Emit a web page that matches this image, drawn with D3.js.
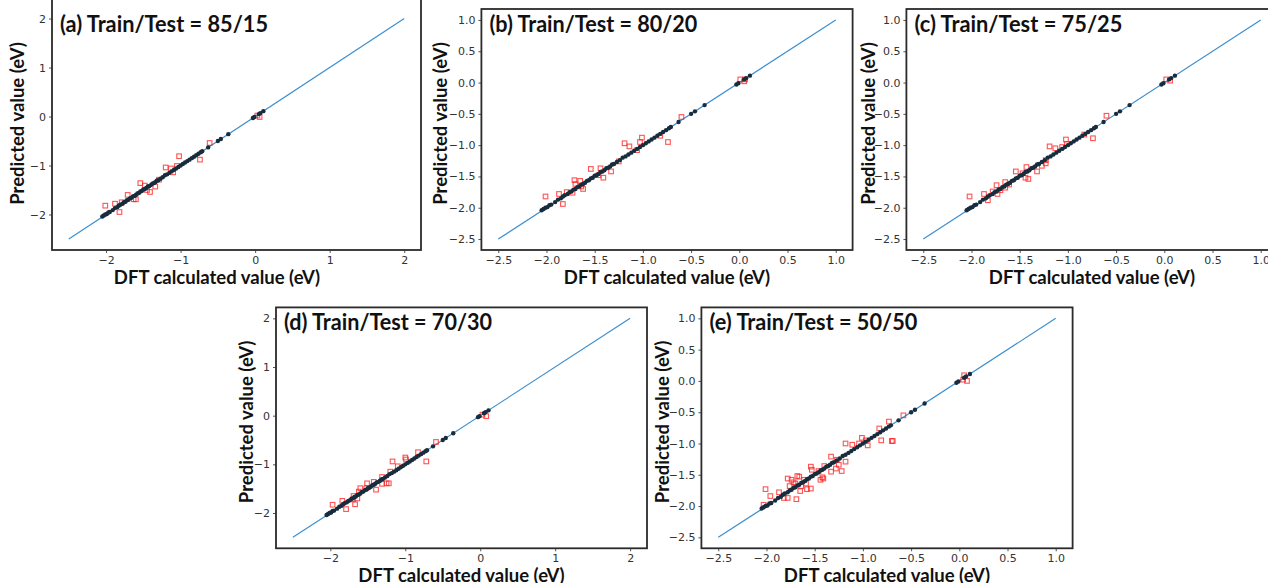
<!DOCTYPE html>
<html>
<head>
<meta charset="utf-8">
<script src="https://cdn.jsdelivr.net/npm/d3@7"></script>
<style>
  html, body { margin: 0; padding: 0; background: #fff; overflow: hidden; }
  svg { display: block; }
</style>
</head>
<body>
<svg id="chart" width="1268" height="583"></svg>
<script>
// ---- data ----
const panelTitles = ["(a) Train/Test = 85/15", "(b) Train/Test = 80/20", "(c) Train/Test = 75/25",
  "(d) Train/Test = 70/30", "(e) Train/Test = 50/50"];

const ticksWide = [-2, -1, 0, 1, 2];
const ticksNarrow = [-2.5, -2.0, -1.5, -1.0, -0.5, 0.0, 0.5, 1.0];
const lineWide = [-2.5, 2];
const lineNarrow = [-2.5, 1.0];

// training set (DFT, predicted) - practically identical in every panel
const trainPoints = [
  [-2.05, -2.04], [-2.03, -2.02], [-2.01, -2.00], [-1.99, -1.99], [-1.97, -1.96], [-1.95, -1.95],
  [-1.91, -1.91], [-1.88, -1.87], [-1.85, -1.85], [-1.83, -1.82], [-1.81, -1.80], [-1.78, -1.78],
  [-1.76, -1.75], [-1.74, -1.74], [-1.72, -1.71], [-1.70, -1.70], [-1.68, -1.67], [-1.66, -1.66],
  [-1.64, -1.63], [-1.62, -1.62], [-1.60, -1.60], [-1.58, -1.57], [-1.56, -1.56], [-1.54, -1.53],
  [-1.52, -1.52], [-1.50, -1.49], [-1.48, -1.48], [-1.46, -1.46], [-1.44, -1.43], [-1.42, -1.42],
  [-1.40, -1.40], [-1.38, -1.37], [-1.36, -1.36], [-1.34, -1.34], [-1.32, -1.31], [-1.30, -1.30],
  [-1.27, -1.27], [-1.24, -1.24], [-1.21, -1.20], [-1.18, -1.18], [-1.15, -1.15], [-1.12, -1.12],
  [-1.09, -1.09], [-1.06, -1.06], [-1.03, -1.03], [-1.00, -1.00], [-0.97, -0.97], [-0.94, -0.94],
  [-0.91, -0.91], [-0.88, -0.88], [-0.85, -0.85], [-0.82, -0.82], [-0.79, -0.79], [-0.76, -0.76],
  [-0.73, -0.73], [-0.71, -0.71], [-0.63, -0.63], [-0.50, -0.50], [-0.46, -0.46], [-0.36, -0.36],
  [-0.03, -0.03], [-0.01, -0.01], [0.05, 0.05], [0.07, 0.07], [0.11, 0.11]
];

// test sets (DFT, predicted)
const testA = [
  [-2.01, -1.82], [-1.88, -1.78], [-1.82, -1.95], [-1.79, -1.75], [-1.71, -1.60], [-1.63, -1.69],
  [-1.60, -1.69], [-1.54, -1.36], [-1.48, -1.41], [-1.45, -1.50], [-1.41, -1.54], [-1.34, -1.43],
  [-1.29, -1.29], [-1.20, -1.04], [-1.13, -1.06], [-1.10, -1.14], [-1.05, -1.01], [-1.02, -0.81],
  [-0.74, -0.88], [-0.61, -0.54], [0.03, 0.02], [0.06, -0.01]
];
const testB = [
  [-2.01, -1.82], [-1.87, -1.78], [-1.83, -1.94], [-1.79, -1.75], [-1.73, -1.76], [-1.71, -1.56],
  [-1.70, -1.62], [-1.65, -1.57], [-1.64, -1.66], [-1.62, -1.70], [-1.54, -1.38], [-1.44, -1.37],
  [-1.46, -1.48], [-1.41, -1.52], [-1.33, -1.42], [-1.25, -1.26], [-1.19, -0.97], [-1.14, -1.02],
  [-1.06, -1.08], [-1.03, -0.95], [-1.01, -0.88], [-0.82, -0.85], [-0.74, -0.95], [-0.60, -0.55],
  [0.01, 0.05], [0.05, 0.02], [0.06, 0.05]
];
const testC = [
  [-2.02, -1.82], [-1.87, -1.78], [-1.83, -1.88], [-1.78, -1.74], [-1.73, -1.78], [-1.74, -1.64],
  [-1.70, -1.72], [-1.65, -1.68], [-1.65, -1.59], [-1.61, -1.63], [-1.54, -1.42], [-1.47, -1.45],
  [-1.43, -1.35], [-1.44, -1.52], [-1.41, -1.54], [-1.32, -1.42], [-1.27, -1.33], [-1.23, -1.29],
  [-1.23, -1.24], [-1.19, -1.02], [-1.13, -1.05], [-1.06, -1.03], [-1.02, -0.91], [-1.01, -0.98],
  [-0.83, -0.83], [-0.74, -0.89], [-0.60, -0.53], [0.02, 0.05], [0.06, 0.03]
];
const testD = [
  [-1.97, -1.83], [-1.84, -1.75], [-1.79, -1.92], [-1.67, -1.82], [-1.69, -1.65], [-1.62, -1.56],
  [-1.64, -1.70], [-1.70, -1.72], [-1.60, -1.49], [-1.51, -1.39], [-1.52, -1.49], [-1.42, -1.36],
  [-1.39, -1.52], [-1.31, -1.26], [-1.31, -1.40], [-1.25, -1.39], [-1.22, -1.39], [-1.20, -1.15],
  [-1.17, -0.94], [-1.10, -1.04], [-1.00, -0.86], [-0.99, -0.90], [-0.83, -0.75], [-0.72, -0.94],
  [-0.59, -0.54], [0.03, 0.02], [0.08, -0.01]
];
const testE = [
  [-2.03, -1.98], [-2.01, -1.73], [-1.96, -1.84], [-1.87, -1.78], [-1.82, -1.87], [-1.78, -1.87],
  [-1.78, -1.56], [-1.74, -1.58], [-1.70, -1.64], [-1.68, -1.52], [-1.66, -1.53], [-1.64, -1.68],
  [-1.61, -1.58], [-1.59, -1.64], [-1.69, -1.89], [-1.58, -1.73], [-1.54, -1.37], [-1.53, -1.42],
  [-1.54, -1.72], [-1.46, -1.44], [-1.44, -1.58], [-1.41, -1.56], [-1.40, -1.36], [-1.33, -1.45],
  [-1.33, -1.21], [-1.28, -1.40], [-1.25, -1.34], [-1.22, -1.44], [-1.18, -1.29], [-1.18, -1.00],
  [-1.11, -1.02], [-1.04, -1.00], [-1.01, -0.91], [-0.97, -0.95], [-0.95, -1.03], [-0.83, -0.76],
  [-0.81, -0.95], [-0.70, -0.96], [-0.69, -0.96], [-0.73, -0.65], [-0.58, -0.55], [0.05, 0.09],
  [0.08, 0.00], [0.04, 0.02], [-1.72, -1.62], [-1.76, -1.68], [-1.65, -1.76], [-1.42, -1.54],
  [-1.27, -1.26]
];

// ---- layout (pixel frames of each axes box) ----
const panels = [
  { title: panelTitles[0], test: testA, ticks: ticksWide, line: lineWide, fmt: d3.format("d"),
    box: { x0: 52, x1: 421, y0: -2, y1: 250 }, xDom: [-2.725, 2.225], yDom: [-2.725, 2.42], ylabX: 20, xlabX: 217 },
  { title: panelTitles[1], test: testB, ticks: ticksNarrow, line: lineNarrow, fmt: d3.format(".1f"),
    box: { x0: 481.4, x1: 852.6, y0: 9, y1: 250 }, xDom: [-2.675, 1.175], yDom: [-2.675, 1.175], ylabX: 443 },
  { title: panelTitles[2], test: testC, ticks: ticksNarrow, line: lineNarrow, fmt: d3.format(".1f"),
    box: { x0: 906.4, x1: 1277.6, y0: 9, y1: 250 }, xDom: [-2.675, 1.175], yDom: [-2.675, 1.175], ylabX: 871 },
  { title: panelTitles[3], test: testD, ticks: ticksWide, line: lineWide, fmt: d3.format("d"),
    box: { x0: 276, x1: 647, y0: 307.4, y1: 548.3 }, xDom: [-2.725, 2.225], yDom: [-2.725, 2.225], ylabX: 249 },
  { title: panelTitles[4], test: testE, ticks: ticksNarrow, line: lineNarrow, fmt: d3.format(".1f"),
    box: { x0: 701.4, x1: 1072.6, y0: 307.4, y1: 548.3 }, xDom: [-2.675, 1.175], yDom: [-2.675, 1.175], ylabX: 665 }
];

const svg = d3.select("#chart");
const boldFont = "Lato, 'Open Sans', sans-serif";
const tickFont = "'DejaVu Sans', sans-serif";

// squeeze a text element to the width it has in the figure
function squeeze(sel, target) {
  const len = sel.node().getComputedTextLength();
  if (len > target) {
    sel.attr("textLength", target).attr("lengthAdjust", "spacingAndGlyphs");
  }
}

panels.forEach((p, i) => {
  const b = p.box;
  const x = d3.scaleLinear().domain(p.xDom).range([b.x0, b.x1]);
  const y = d3.scaleLinear().domain(p.yDom).range([b.y1, b.y0]);
  const g = svg.append("g");

  // axes (ticks + labels)
  const xAxis = g.append("g")
    .attr("transform", `translate(0,${b.y1})`)
    .call(d3.axisBottom(x).tickValues(p.ticks).tickFormat(p.fmt).tickSize(3).tickPadding(3));
  const yAxis = g.append("g")
    .attr("transform", `translate(${b.x0},0)`)
    .call(d3.axisLeft(y).tickValues(p.ticks).tickFormat(p.fmt).tickSize(3).tickPadding(3));
  [xAxis, yAxis].forEach((a) => {
    a.select(".domain").remove();
    a.selectAll(".tick line").attr("stroke", "#555");
    a.selectAll(".tick text")
      .attr("font-family", tickFont)
      .attr("font-size", 11)
      .attr("fill", "#333");
  });

  // clip to the axes area
  const clipId = "clip" + i;
  g.append("clipPath").attr("id", clipId)
    .append("rect")
    .attr("x", b.x0).attr("y", b.y0)
    .attr("width", b.x1 - b.x0).attr("height", b.y1 - b.y0);
  const plot = g.append("g").attr("clip-path", `url(#${clipId})`);

  // y = x reference line
  plot.append("line")
    .attr("x1", x(p.line[0])).attr("y1", y(p.line[0]))
    .attr("x2", x(p.line[1])).attr("y2", y(p.line[1]))
    .attr("stroke", "#3d8fd0")
    .attr("stroke-width", 1.2);

  // test points: open red squares
  const sq = 4.6;
  plot.selectAll(".test")
    .data(p.test)
    .enter()
    .append("rect")
    .attr("class", "test")
    .attr("x", (d) => x(d[0]) - sq / 2)
    .attr("y", (d) => y(d[1]) - sq / 2)
    .attr("width", sq)
    .attr("height", sq)
    .attr("fill", "none")
    .attr("stroke", "#ff1a1a")
    .attr("stroke-opacity", 0.75)
    .attr("stroke-width", 1.1);

  // training points: dark dots
  plot.selectAll(".train")
    .data(trainPoints)
    .enter()
    .append("circle")
    .attr("class", "train")
    .attr("cx", (d) => x(d[0]))
    .attr("cy", (d) => y(d[1]))
    .attr("r", 2.2)
    .attr("fill", "#172c3c");

  // frame
  g.append("rect")
    .attr("x", b.x0).attr("y", b.y0)
    .attr("width", b.x1 - b.x0).attr("height", b.y1 - b.y0)
    .attr("fill", "none")
    .attr("stroke", "#2b2b2b")
    .attr("stroke-width", 1.8);

  // title
  const title = g.append("text")
    .attr("x", b.x0 + 8)
    .attr("y", Math.max(b.y0, 9) + 23)
    .attr("font-family", boldFont)
    .attr("font-weight", "bold")
    .attr("font-size", 22)
    .attr("fill", "#111")
    .text(p.title);
  squeeze(title, 208);

  // axis labels
  const xl = g.append("text")
    .attr("x", p.xlabX !== undefined ? p.xlabX : (b.x0 + b.x1) / 2)
    .attr("y", b.y1 + 34)
    .attr("text-anchor", "middle")
    .attr("font-family", boldFont)
    .attr("font-weight", "bold")
    .attr("font-size", 18.5)
    .attr("fill", "#111")
    .text("DFT calculated value (eV)");
  squeeze(xl, 208);

  const yc = (Math.max(b.y0, 9) + b.y1) / 2 - 6;
  const yl = g.append("text")
    .attr("transform", `translate(${p.ylabX + 4},${yc}) rotate(-90)`)
    .attr("text-anchor", "middle")
    .attr("font-family", boldFont)
    .attr("font-weight", "bold")
    .attr("font-size", 18.5)
    .attr("fill", "#111")
    .text("Predicted value (eV)");
  squeeze(yl, 187);
});
</script>
</body>
</html>
